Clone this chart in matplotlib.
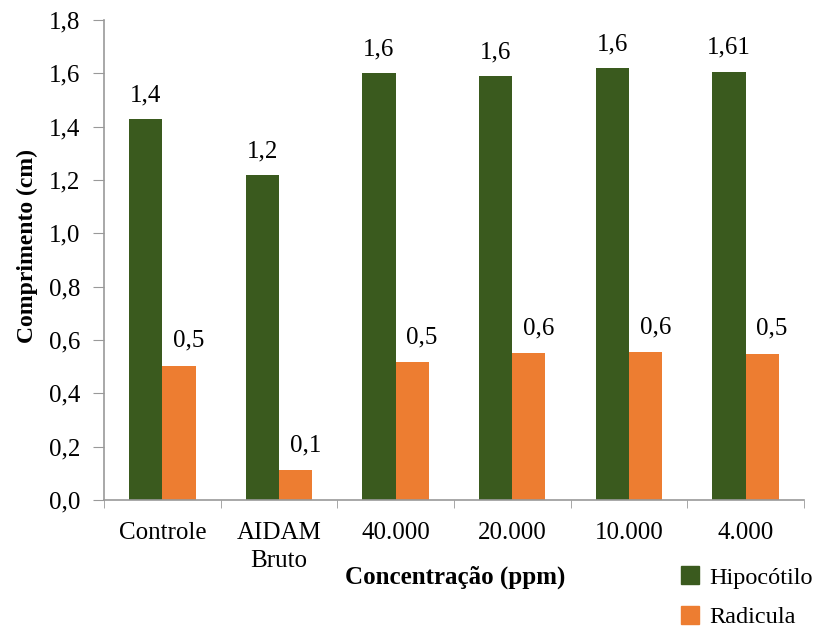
import numpy as np
import matplotlib.pyplot as plt
from matplotlib.patches import Patch

plt.rcParams['font.family'] = ['Liberation Serif', 'DejaVu Serif']

categorias = ['Controle', 'AIDAM\nBruto', '40.000', '20.000', '10.000', '4.000']
hipocotilo = [1.43, 1.22, 1.60, 1.59, 1.62, 1.607]
radicula = [0.504, 0.111, 0.516, 0.551, 0.554, 0.548]
# casas decimais usadas em cada rótulo
dec_hipo = [1, 1, 1, 1, 1, 2]
dec_rad = [1, 1, 1, 1, 1, 1]

cor_hipo = '#3a5a1e'
cor_rad = '#ed7d31'

def fmt(v, d):
    return f'{v:.{d}f}'.replace('.', ',')

fig = plt.figure(figsize=(8.27, 6.30), dpi=100)
ax = fig.add_axes([0.1258, 0.2063, 0.8462, 0.7619])

x = np.arange(len(categorias))
w = 0.285
b1 = ax.bar(x - w/2, hipocotilo, w, color=cor_hipo)
b2 = ax.bar(x + w/2, radicula, w, color=cor_rad)

for rect, v, d in zip(b1, hipocotilo, dec_hipo):
    ax.annotate(fmt(v, d), (rect.get_x() + rect.get_width()/2, v),
                xytext=(0, 17), textcoords='offset points',
                ha='center', va='center', fontsize=18)
for rect, v, d in zip(b2, radicula, dec_rad):
    ax.annotate(fmt(v, d), (rect.get_x() + rect.get_width()/2, v),
                xytext=(7, 18), textcoords='offset points',
                ha='center', va='center', fontsize=18)

ax.set_xlim(-0.5, len(categorias) - 0.5)
ax.set_ylim(0, 1.8)
ax.set_yticks(np.arange(0, 1.81, 0.2))
ax.set_yticklabels([fmt(t, 1) for t in np.arange(0, 1.81, 0.2)], fontsize=18)

ax.set_xticks(x)
ax.set_xticklabels(categorias, fontsize=18, linespacing=1.35)
ax.set_xticks(np.arange(-0.5, len(categorias)), minor=True)
ax.tick_params(axis='x', which='major', length=0, pad=16)
ax.tick_params(axis='x', which='minor', length=6, color='#999999')
ax.tick_params(axis='y', length=8, color='#999999', pad=9)

for s in ['top', 'right']:
    ax.spines[s].set_visible(False)
for s in ['left', 'bottom']:
    ax.spines[s].set_color('#999999')
    ax.spines[s].set_linewidth(1.2)

ax.set_ylabel('Comprimento (cm)', fontsize=17, fontweight='bold')
ax.yaxis.set_label_coords(-0.095, 0.53)
fig.text(0.55, 0.084, 'Concentração (ppm)', fontsize=18, fontweight='bold',
         ha='center', va='center')

handles = [Patch(color=cor_hipo), Patch(color=cor_rad)]
fig.legend(handles, ['Hipocótilo', 'Radicula'], loc='center left',
           bbox_to_anchor=(0.797, 0.052), frameon=False, fontsize=17.5,
           handlelength=0.75, handleheight=0.75, handletextpad=0.4,
           labelspacing=0.7)

fig.savefig('out.png', dpi=100)
